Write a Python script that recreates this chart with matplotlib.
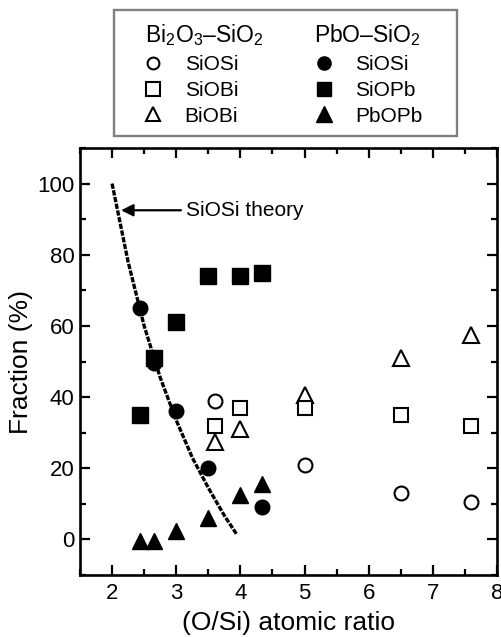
import matplotlib
matplotlib.use("Agg")
import matplotlib.pyplot as plt
from matplotlib.lines import Line2D
from matplotlib.patches import Rectangle
from matplotlib.ticker import MultipleLocator

plt.rcParams['font.family'] = ['Liberation Sans', 'DejaVu Sans']
plt.rcParams['mathtext.fontset'] = 'custom'
plt.rcParams['mathtext.rm'] = 'Liberation Sans'
plt.rcParams['mathtext.it'] = 'Liberation Sans'

# Bi2O3-SiO2 glasses (open symbols)
bi_x_siosi = [3.6, 5.0, 6.5, 7.6]
bi_siosi = [39, 21, 13, 10.5]
bi_x_siobi = [3.6, 4.0, 5.0, 6.5, 7.6]
bi_siobi = [32, 37, 37, 35, 32]
bi_x_biobi = [3.6, 4.0, 5.0, 6.5, 7.6]
bi_biobi = [27.5, 31, 40.5, 51, 57.5]

# PbO-SiO2 glasses (filled symbols)
pb_x = [2.43, 2.66, 3.0, 3.5, 4.0, 4.34]
pb_x_siosi = [2.43, 2.66, 3.0, 3.5, 4.34]
pb_siosi = [65, 49.5, 36, 20, 9]
pb_siopb = [35, 51, 61, 74, 74, 75]
pb_pbopb = [-0.5, -0.5, 2.5, 6, 12.5, 15.5]

# SiOSi theory curve
th_x = [2.0, 2.25, 2.5, 2.75, 3.0, 3.25, 3.5, 3.75, 3.94]
th_y = [100, 78, 60, 45.5, 33.5, 23, 14.5, 6.7, 1.5]

W, H = 502, 637
fig = plt.figure(figsize=(W / 100, H / 100), dpi=100)

def fx(px):
    return px / W

def fy(py):
    return 1 - py / H

ax = fig.add_axes([fx(80), fy(575), fx(497) - fx(80), fy(148) - fy(575)])

ms_open = dict(mfc='white', mec='black', mew=1.5, ls='none')
ax.plot(bi_x_siosi, bi_siosi, 'o', ms=10, **ms_open)
ax.plot(bi_x_biobi, bi_biobi, '^', ms=11, **ms_open)
ax.plot(bi_x_siobi, bi_siobi, 's', ms=10.5, **ms_open)

ax.plot(pb_x_siosi, pb_siosi, 'o', ms=10.5, color='black', ls='none')
ax.plot(pb_x, pb_siopb, 's', ms=11, color='black', ls='none')
ax.plot(pb_x, pb_pbopb, '^', ms=12, color='black', ls='none')

ax.plot(th_x, th_y, color='black', lw=2.4, ls=(0, (1.6, 0.45)), zorder=5)

ax.annotate('SiOSi theory', xy=(2.14, 92.5), xytext=(3.16, 92.5),
            fontsize=15, va='center', ha='left',
            arrowprops=dict(arrowstyle='-|>', color='black', lw=1.6,
                            mutation_scale=18, shrinkA=2, shrinkB=0))

ax.set_xlim(1.5, 8)
ax.set_ylim(-10, 110)
ax.xaxis.set_major_locator(MultipleLocator(1))
ax.xaxis.set_minor_locator(MultipleLocator(0.5))
ax.yaxis.set_major_locator(MultipleLocator(20))
ax.yaxis.set_minor_locator(MultipleLocator(10))
ax.set_yticks([0, 20, 40, 60, 80, 100])
ax.tick_params(which='both', direction='in', top=True, right=True,
               labelsize=16, width=1.6)
ax.tick_params(which='major', length=7)
ax.tick_params(which='minor', length=4.5)
ax.tick_params(axis='x', pad=6)
ax.tick_params(axis='y', pad=4)
for sp in ax.spines.values():
    sp.set_linewidth(1.9)

ax.set_xlabel('(O/Si) atomic ratio', fontsize=19, labelpad=5)
ax.set_ylabel('Fraction (%)', fontsize=19, labelpad=3)

# legend block above the axes
box = Rectangle((fx(114), fy(136)), fx(457) - fx(114), fy(10) - fy(136),
                transform=fig.transFigure, fill=False, edgecolor='#808080',
                lw=1.7)
fig.patches.append(box)
fig.text(fx(145), fy(35), 'Bi$_2$O$_3$–SiO$_2$', fontsize=16.5, va='center')
fig.text(fx(314), fy(35), 'PbO–SiO$_2$', fontsize=16.5, va='center')

handles = [
    Line2D([], [], marker='o', ms=8.5, **ms_open),
    Line2D([], [], marker='s', ms=10, **ms_open),
    Line2D([], [], marker='^', ms=10.5, **ms_open),
    Line2D([], [], marker='o', ms=9.5, color='black', ls='none'),
    Line2D([], [], marker='s', ms=10, color='black', ls='none'),
    Line2D([], [], marker='^', ms=11, color='black', ls='none'),
]
labels = ['SiOSi', 'SiOBi', 'BiOBi', 'SiOSi', 'SiOPb', 'PbOPb']
fig.legend(handles, labels, ncol=2, frameon=False, fontsize=15,
           loc='upper left', bbox_to_anchor=(fx(143), fy(55)),
           borderpad=0, borderaxespad=0, handlelength=1.0,
           handletextpad=1.0, labelspacing=0.33, columnspacing=3.6)

fig.savefig('out.png', dpi=100)
